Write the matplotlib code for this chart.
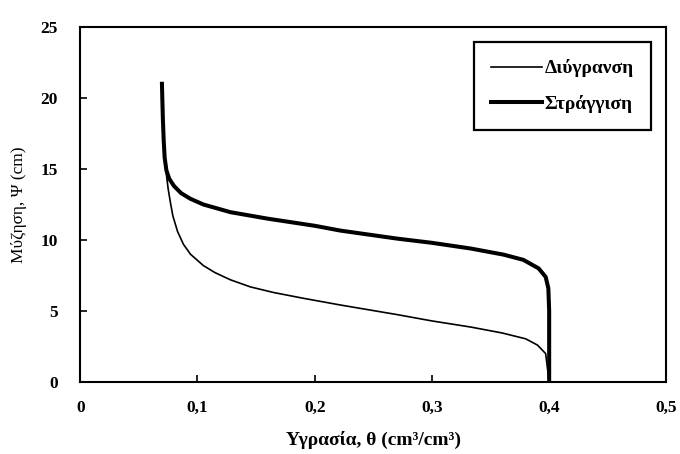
import matplotlib
matplotlib.use("Agg")
from matplotlib import pyplot as plt

# Water retention curves
theta_drain = [0.0697, 0.0700, 0.0705, 0.0712, 0.0720, 0.0735, 0.0760, 0.0800,
               0.0860, 0.0940, 0.1050, 0.1280, 0.1600, 0.2000, 0.2220, 0.2700,
               0.3000, 0.3330, 0.3610, 0.3780, 0.3910, 0.3970, 0.3993, 0.4000,
               0.4000]
psi_drain = [21.0, 20.0, 18.5, 17.0, 15.8, 14.9, 14.3, 13.8,
             13.3, 12.9, 12.5, 11.96, 11.5, 11.0, 10.66, 10.1,
             9.8, 9.4, 8.97, 8.6, 8.0, 7.4, 6.6, 5.0,
             0.0]

theta_wet = [0.0697, 0.0700, 0.0705, 0.0712, 0.0720, 0.0735, 0.0750, 0.0770,
             0.0790, 0.0830, 0.0880, 0.0940, 0.1050, 0.1150, 0.1280, 0.1450,
             0.1650, 0.1900, 0.2220, 0.2700, 0.3000, 0.3330, 0.3600, 0.3800,
             0.3900, 0.3970, 0.4000]
psi_wet = [21.0, 20.0, 18.5, 17.0, 15.8, 14.6, 13.6, 12.6,
           11.7, 10.6, 9.7, 9.0, 8.2, 7.7, 7.2, 6.7,
           6.3, 5.9, 5.42, 4.75, 4.3, 3.87, 3.45, 3.04,
           2.6, 2.0, 0.0]

x_ticks = [0, 0.1, 0.2, 0.3, 0.4, 0.5]
x_labels = ['0', '0,1', '0,2', '0,3', '0,4', '0,5']
y_ticks = [0, 5, 10, 15, 20, 25]

plt.rcParams['font.family'] = ['Liberation Serif', 'DejaVu Serif']

fig = plt.figure(figsize=(6.8, 4.54), dpi=100)
ax = fig.add_axes([0.118, 0.1586, 0.862, 0.782])

ax.plot(theta_wet, psi_wet, color='black', lw=1.2, label='Διύγρανση',
        solid_joinstyle='round')
ax.plot(theta_drain, psi_drain, color='black', lw=2.9, label='Στράγγιση',
        solid_joinstyle='round')

ax.set_xlim(0, 0.5)
ax.set_ylim(0, 25)
ax.set_xticks(x_ticks)
ax.set_xticklabels(x_labels)
ax.set_yticks(y_ticks)
ax.tick_params(direction='in', length=5, width=1.2, labelsize=12.5)
ax.tick_params(axis='x', pad=13)
ax.tick_params(axis='y', pad=16)
for lab in ax.get_xticklabels() + ax.get_yticklabels():
    lab.set_fontweight('bold')
for s in ax.spines.values():
    s.set_linewidth(1.5)

ax.set_xlabel('Υγρασία, θ (cm³/cm³)', fontsize=14, fontweight='bold',
              labelpad=11)
ax.set_ylabel('Μύζηση, Ψ (cm)', fontsize=12.5, labelpad=10)

leg = ax.legend(loc='upper right', bbox_to_anchor=(0.974, 0.958),
                borderaxespad=0, fancybox=False, edgecolor='black',
                framealpha=1, handlelength=2.6, handletextpad=0.15,
                borderpad=0.9, labelspacing=0.9,
                prop={'size': 14, 'weight': 'bold'})
leg.get_frame().set_linewidth(1.6)

plt.savefig('out.png', dpi=100)
